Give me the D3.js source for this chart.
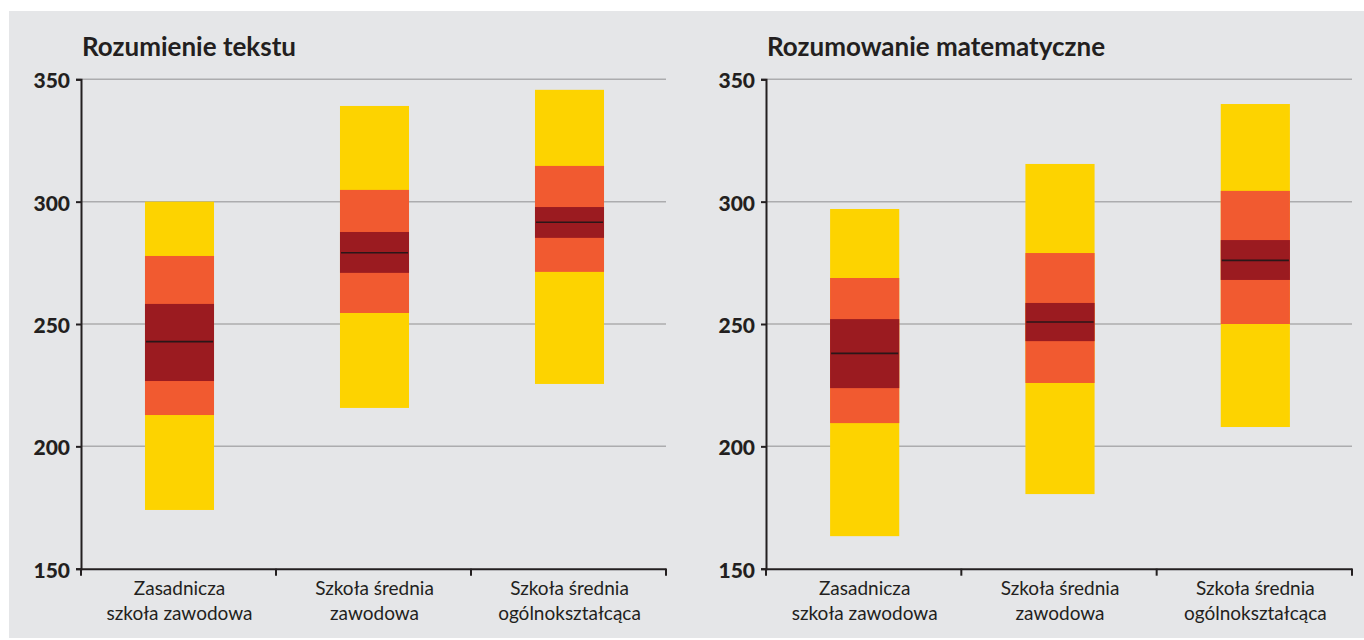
<!DOCTYPE html>
<html>
<head>
<meta charset="utf-8">
<script src="https://cdn.jsdelivr.net/npm/d3@7"></script>
<style>
  body { margin: 0; background: #ffffff; }
  svg { display: block; }
</style>
</head>
<body>
<svg id="chart" width="1364" height="640"></svg>
<script>
////////////////////////////////////////////////////////////////////////
//
// data (score scale 150-350)
//
////////////////////////////////////////////////////////////////////////
var categories = [
    ["Zasadnicza", "szkoła zawodowa"],
    ["Szkoła średnia", "zawodowa"],
    ["Szkoła średnia", "ogólnokształcąca"]
    ];
var yTicks = [150, 200, 250, 300, 350];

// Rozumienie tekstu
var readingOuterLow  = [174.0, 215.7, 225.5];
var readingOuterHigh = [300.0, 339.1, 345.7];
var readingMidLow    = [212.8, 254.5, 271.3];
var readingMidHigh   = [277.8, 304.8, 314.6];
var readingInnerLow  = [226.7, 270.9, 285.2];
var readingInnerHigh = [258.2, 287.6, 297.8];
var readingMean      = [242.8, 279.1, 291.6];

// Rozumowanie matematyczne
var mathOuterLow  = [163.3, 180.5, 207.9];
var mathOuterHigh = [297.0, 315.4, 339.9];
var mathMidLow    = [209.5, 225.9, 250.0];
var mathMidHigh   = [268.8, 279.0, 304.4];
var mathInnerLow  = [223.8, 243.0, 268.0];
var mathInnerHigh = [252.0, 258.6, 284.3];
var mathMean      = [238.0, 250.8, 276.0];

//              yellow     orange     dark red
var bandColors = ["#fdd300", "#f15a30", "#9b1b20"];

var fontFace = "Lato, 'Open Sans', sans-serif";


////////////////////////////////////////////////////////////////////////
//
// draw one panel
//
////////////////////////////////////////////////////////////////////////
function drawPanel(svg, opts)
    {
    var catKeys = categories.map(function(c) { return c.join(" "); });

    var x = d3.scaleBand().domain(catKeys).range([opts.left, opts.right]).padding(0);
    var y = d3.scaleLinear().domain([150, 350]).range([568.7, 79.3]);

    var g = svg.append("g");

    //Title
    g.append("text")
        .attr("x", opts.left + 1)
        .attr("y", 56)
        .attr("font-family", fontFace)
        .attr("font-weight", "bold")
        .attr("font-size", 26)
        .attr("fill", "#231f20")
        .text(opts.title);

    //Gridlines
    g.selectAll(".grid")
        .data(yTicks.slice(1))
        .enter()
        .append("line")
        .attr("x1", opts.left)
        .attr("x2", opts.right)
        .attr("y1", function(d) { return y(d); })
        .attr("y2", function(d) { return y(d); })
        .attr("stroke", "#acacae")
        .attr("stroke-width", 1.5);

    //Stacked ranges: outer (yellow), middle (orange), inner (dark)
    var rows = catKeys.map(function(k, i)
        {
        return {
            key: k,
            ranges: [
                [opts.outerLow[i], opts.outerHigh[i]],
                [opts.midLow[i], opts.midHigh[i]],
                [opts.innerLow[i], opts.innerHigh[i]]
                ],
            mean: opts.mean[i]
            };
        });

    var barW = x.bandwidth() * 0.354;

    var bars = g.selectAll(".bar")
        .data(rows)
        .enter()
        .append("g")
        .attr("transform", function(d) { return "translate(" + (x(d.key) + x.bandwidth() / 2 + 1 - barW / 2) + ",0)"; });

    bars.selectAll("rect")
        .data(function(d) { return d.ranges; })
        .enter()
        .append("rect")
        .attr("x", 0)
        .attr("width", barW)
        .attr("y", function(r) { return y(r[1]); })
        .attr("height", function(r) { return y(r[0]) - y(r[1]); })
        .attr("fill", function(r, i) { return bandColors[i]; });

    bars.append("line")
        .attr("x1", 1)
        .attr("x2", barW - 1)
        .attr("y1", function(d) { return y(d.mean); })
        .attr("y2", function(d) { return y(d.mean); })
        .attr("stroke", "#2a1718")
        .attr("stroke-width", 1.6);

    //Y axis
    var yAxis = g.append("g")
        .attr("transform", "translate(" + opts.left + ",0)")
        .call(d3.axisLeft(y).tickValues(yTicks).tickSize(5).tickPadding(6));

    yAxis.select(".domain").attr("stroke", "#231f20").attr("stroke-width", 2);
    yAxis.selectAll(".tick line").attr("stroke", "#231f20").attr("stroke-width", 2);
    yAxis.selectAll(".tick text")
        .attr("dy", "0.4em")
        .attr("font-family", fontFace)
        .attr("font-weight", 900)
        .attr("font-size", 21)
        .attr("fill", "#231f20");

    //X axis -- labels at band centres, ticks at band edges
    var xAxis = g.append("g")
        .attr("transform", "translate(0," + y(150) + ")")
        .call(d3.axisBottom(x).tickSize(0).tickPadding(0));

    xAxis.select(".domain").attr("stroke", "#231f20").attr("stroke-width", 2);

    xAxis.selectAll(".tick text").each(function(d, i)
        {
        var t = d3.select(this).text(null)
            .attr("y", null)
            .attr("dy", null)
            .attr("font-family", fontFace)
            .attr("font-size", 19)
            .attr("fill", "#231f20");
        categories[i].forEach(function(line, j)
            {
            t.append("tspan").attr("x", 1).attr("y", 26 + j * 25).text(line);
            });
        });

    var edges = catKeys.map(function(k) { return x(k); }).concat([opts.right]);
    xAxis.selectAll(".edge")
        .data(edges)
        .enter()
        .append("line")
        .attr("x1", function(d) { return d; })
        .attr("x2", function(d) { return d; })
        .attr("y1", 0)
        .attr("y2", 7)
        .attr("stroke", "#231f20")
        .attr("stroke-width", 2);
    }


////////////////////////////////////////////////////////////////////////
//
// initialize page
//
////////////////////////////////////////////////////////////////////////
function init()
    {
    var svg = d3.select("#chart");

    svg.append("rect")
        .attr("x", 9)
        .attr("y", 11)
        .attr("width", 1355)
        .attr("height", 627)
        .attr("fill", "#e5e6e8");

    drawPanel(svg, {
        title: "Rozumienie tekstu",
        left: 81, right: 666,
        outerLow: readingOuterLow, outerHigh: readingOuterHigh,
        midLow: readingMidLow, midHigh: readingMidHigh,
        innerLow: readingInnerLow, innerHigh: readingInnerHigh,
        mean: readingMean
        });

    drawPanel(svg, {
        title: "Rozumowanie matematyczne",
        left: 766, right: 1352,
        outerLow: mathOuterLow, outerHigh: mathOuterHigh,
        midLow: mathMidLow, midHigh: mathMidHigh,
        innerLow: mathInnerLow, innerHigh: mathInnerHigh,
        mean: mathMean
        });
    }

init();
</script>
</body>
</html>
